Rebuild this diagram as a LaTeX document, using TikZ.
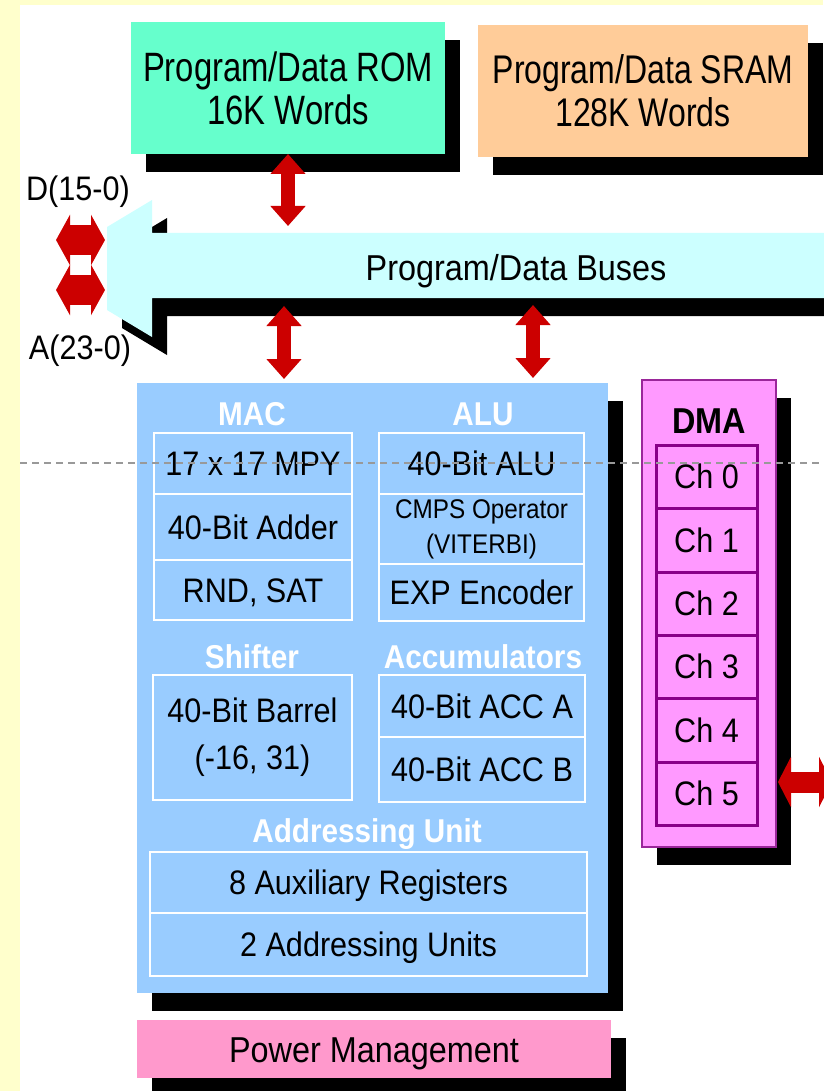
\documentclass[tikz,border=0pt]{standalone}
\usepackage{fontspec}
\setmainfont{Liberation Sans}[FakeStretch=0.9]
\newfontfamily\narrowsans{Liberation Sans}[FakeStretch=0.8]
\usetikzlibrary{arrows.meta,calc}
\pgfdeclarelayer{back}
\pgfdeclarelayer{shade}
\pgfsetlayers{back,shade,main}
\definecolor{bgyellow}{HTML}{FFFFCC}
\definecolor{romc}{HTML}{66FFCC}
\definecolor{sramc}{HTML}{FFCC99}
\definecolor{busc}{HTML}{CCFFFF}
\definecolor{corec}{HTML}{99CCFF}
\definecolor{dmac}{HTML}{FF99FF}
\definecolor{dmaline}{HTML}{880088}
\definecolor{pwrc}{HTML}{FF99CC}
\definecolor{redc}{HTML}{CC0000}
\newcommand\mkbox[7]{%
  \pgfmathsetmacro\bxw{#4-#2}\pgfmathsetmacro\bxh{#5-#3}%
  \pgfmathsetmacro\bxcx{(#2+#4)/2}\pgfmathsetmacro\bxcy{(#3+#5)/2}%
  \node[#6, minimum width=\bxw pt, minimum height=\bxh pt] (#1) at (\bxcx,\bxcy) {#7};}
\newcommand\shadowof[1]{\fill[black] ($(#1.north west)+(15,18)$) rectangle ($(#1.south east)+(15,18)$);}
\tikzset{
  box/.style={inner sep=0pt, outer sep=0pt},
  rowbox/.style={box, draw=white, line width=2.5pt, font=\fontsize{34}{40}\selectfont, text height=24pt, text depth=0pt},
  rowbox2/.style={box, draw=white, line width=2.5pt, align=center},
  chbox/.style={box, draw=dmaline, line width=3pt, font=\fontsize{34}{40}\selectfont, text height=24pt, text depth=0pt},
  head/.style={inner sep=0pt, font=\bfseries\fontsize{33}{40}\selectfont, text=white, anchor=base},
  lbl/.style={inner sep=0pt, font=\fontsize{34}{40}\selectfont, anchor=base},
  vdbl/.style={draw=redc, line width=14pt, {Triangle[width=34pt,length=20pt]}-{Triangle[width=34pt,length=20pt]}},
  hdbl/.style={draw=redc, line width=30pt, {Triangle[width=50pt,length=14pt]}-{Triangle[width=50pt,length=14pt]}},
  hdblb/.style={draw=redc, line width=21pt, {Triangle[width=50pt,length=13pt]}-{Triangle[width=50pt,length=13pt]}},
}
\begin{document}
\begin{tikzpicture}[x=1pt,y=-1pt]
\useasboundingbox (0,0) rectangle (823,1091);
\begin{pgfonlayer}{back}
\fill[bgyellow] (0,0) rectangle (823,1091);
\fill[white] (20,5) rectangle (823,1091);
\end{pgfonlayer}

% memories
\mkbox{rom}{131}{22}{445}{154}{box, fill=romc, align=center, font=\narrowsans\fontsize{41}{43}\selectfont}{Program/Data ROM\\16K Words}
\mkbox{sram}{478}{25}{808}{157}{box, fill=sramc, align=center, font=\narrowsans\fontsize{40}{43}\selectfont}{Program/Data SRAM\\128K Words}

% bus
\fill[busc] (152,200) -- (107,227) -- (107,310) -- (152,337) -- (152,298) -- (830,298) -- (830,233) -- (152,233) -- cycle;
\node[box, font=\fontsize{36}{40}\selectfont, text height=26pt, text depth=0pt] (bus) at (516,267.5) {Program/Data Buses};

% core
\mkbox{core}{137}{383}{608}{993}{box, fill=corec}{}
\node[head] (mac) at (252,425) {MAC};
\node[head] (alu) at (483,425) {ALU};
\mkbox{mpy}{154}{433}{352}{494}{rowbox}{17 x 17 MPY}
\mkbox{adder}{154}{494}{352}{560}{rowbox}{40-Bit Adder}
\mkbox{rnd}{154}{560}{352}{620}{rowbox}{RND, SAT}
\mkbox{alu40}{379}{433}{584}{494}{rowbox}{40-Bit ALU}
\mkbox{cmps}{379}{494}{584}{564}{rowbox2, font=\fontsize{27}{35}\selectfont}{CMPS Operator\\(VITERBI)}
\mkbox{exp}{379}{564}{584}{621}{rowbox}{EXP Encoder}
\node[head] (shifter) at (252,668) {Shifter};
\node[head] (accum) at (483,668) {Accumulators};
\mkbox{barrel}{153}{675}{352}{800}{rowbox2, font=\fontsize{34}{47}\selectfont}{40-Bit Barrel\\(-16, 31)}
\mkbox{acca}{379}{675}{585}{737}{rowbox}{40-Bit ACC A}
\mkbox{accb}{379}{737}{585}{802}{rowbox}{40-Bit ACC B}
\node[head] (addrunit) at (367,842) {Addressing Unit};
\mkbox{aux}{150}{852}{587}{913}{rowbox}{8 Auxiliary Registers}
\mkbox{addr}{150}{913}{587}{976}{rowbox}{2 Addressing Units}

% DMA
\mkbox{dma}{642}{380}{776}{847}{box, fill=dmac, draw=dmaline!85, line width=2pt}{}
\node[lbl, font=\bfseries\fontsize{36}{40}\selectfont] (dmahead) at (709,433) {DMA};
\mkbox{ch0}{656}{445}{757}{508}{chbox}{Ch 0}
\mkbox{ch1}{656}{508}{757}{572}{chbox}{Ch 1}
\mkbox{ch2}{656}{572}{757}{635}{chbox}{Ch 2}
\mkbox{ch3}{656}{635}{757}{698}{chbox}{Ch 3}
\mkbox{ch4}{656}{698}{757}{762}{chbox}{Ch 4}
\mkbox{ch5}{656}{762}{757}{825}{chbox}{Ch 5}

% power
\mkbox{power}{137}{1020}{611}{1078}{box, fill=pwrc, font=\fontsize{36}{40}\selectfont, text height=26pt, text depth=0pt}{Power Management}

% shadows
\begin{pgfonlayer}{shade}
\shadowof{rom}\shadowof{sram}\shadowof{core}\shadowof{dma}\shadowof{power}
\fill[black, shift={(15,18)}] (152,200) -- (107,227) -- (107,310) -- (152,337) -- (152,298) -- (830,298) -- (830,233) -- (152,233) -- cycle;
\end{pgfonlayer}

% labels
\node[lbl] (dlab) at (78,201) {D(15-0)};
\node[lbl] (alab) at (80,359) {A(23-0)};

% arrows
\coordinate (romB) at (288,226);
\draw[vdbl] (rom.south) -- (romB);
\coordinate (busL) at (284,306);
\coordinate (coreL) at (284,379);
\draw[vdbl] (busL) -- (coreL);
\coordinate (busR) at (533,305);
\coordinate (coreR) at (533,378);
\draw[vdbl] (busR) -- (coreR);
\coordinate (dL) at (56,240);
\coordinate (dR) at (105,240);
\draw[hdbl] (dL) -- (dR);
\coordinate (aL) at (56,290);
\coordinate (aR) at (105,290);
\draw[hdbl] (aL) -- (aR);
\coordinate (dmaIn) at (778,782);
\coordinate (dmaOut) at (832,782);
\draw[hdblb] (dmaIn) -- (dmaOut);

% dashed guide line
\draw[black!40, line width=1.2pt, dash pattern=on 7pt off 5pt] (20,463) -- (823,463);
\end{tikzpicture}
\end{document}
